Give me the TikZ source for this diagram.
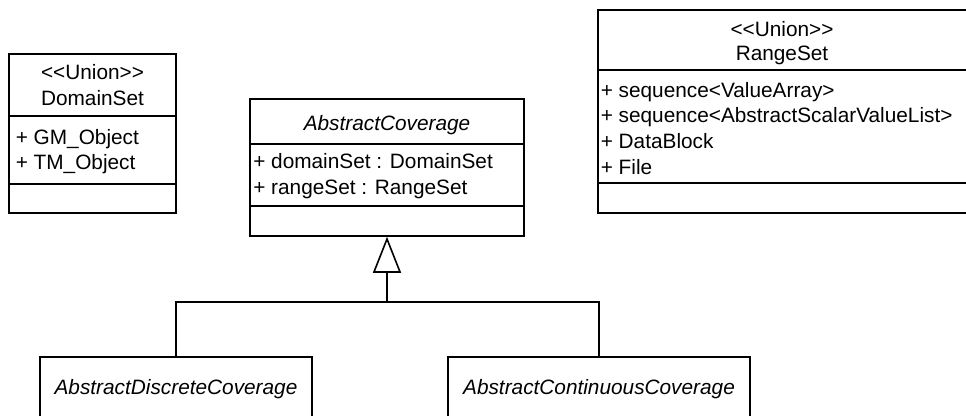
\documentclass[tikz,border=0pt]{standalone}
\usepackage{fontspec}
\setmainfont{Liberation Sans}
\usetikzlibrary{arrows.meta}
\newcommand\LTx{\mbox{<}}
\newcommand\GTx{\mbox{>}}
\begin{document}
\begin{tikzpicture}[x=1pt,y=-1pt,line width=1.6pt,
  classbox/.style={draw,rectangle,inner sep=0pt,line width=1.6pt},
  txt/.style={inner sep=0pt,font=\fontsize{20.8}{24}\selectfont},
  itxt/.style={inner sep=0pt,font=\fontsize{20.8}{24}\selectfont\itshape},
  gen/.style={-{Triangle[open,width=28pt,length=36pt]}}]
\useasboundingbox (0,0) rectangle (966,415);
\fill[white] (0,0) rectangle (966,415);
\clip (0,0) rectangle (966,415);

% DomainSet
\node[classbox,minimum width=167pt,minimum height=159pt] (ds) at (92.5,133.5) {};
\draw (ds.west |- 0,116) -- (ds.east |- 0,116);
\draw (ds.west |- 0,184) -- (ds.east |- 0,184);
\node[txt,anchor=base] (dsst) at (92.5,79) {\LTx\LTx Union\GTx\GTx};
\node[txt,anchor=base] (dsname) at (92.5,105) {DomainSet};
\node[txt,anchor=base west] (dsa1) at (15,144) {+ GM\_Object};
\node[txt,anchor=base west] (dsa2) at (15,169) {+ TM\_Object};

% RangeSet
\node[classbox,minimum width=369pt,minimum height=203pt] (rs) at (782.5,111.5) {};
\draw (rs.west |- 0,70) -- (rs.east |- 0,70);
\draw (rs.west |- 0,183) -- (rs.east |- 0,183);
\node[txt,anchor=base] (rsst) at (782,36) {\LTx\LTx Union\GTx\GTx};
\node[txt,anchor=base] (rsname) at (782,60) {RangeSet};
\node[txt,anchor=base west] (rsa1) at (600,97) {+ sequence<ValueArray>};
\node[txt,anchor=base west] (rsa2) at (600,122) {+ sequence<AbstractScalarValueList>};
\node[txt,anchor=base west] (rsa3) at (600,148) {+ DataBlock};
\node[txt,anchor=base west] (rsa4) at (600,174) {+ File};

% AbstractCoverage
\node[classbox,minimum width=274pt,minimum height=137pt] (ac) at (387,167.5) {};
\draw (ac.west |- 0,144) -- (ac.east |- 0,144);
\draw (ac.west |- 0,206) -- (ac.east |- 0,206);
\node[itxt,anchor=base] (acname) at (387,130) {AbstractCoverage};
\node[txt,anchor=base west] (aca1) at (252.5,168) {+ domainSet : DomainSet};
\node[txt,anchor=base west] (aca2) at (252.5,194) {+ rangeSet : RangeSet};

% Children
\node[classbox,minimum width=272pt,minimum height=83pt] (disc) at (176,398.5) {};
\node[itxt,anchor=base] (discname) at (176,394) {AbstractDiscreteCoverage};
\node[classbox,minimum width=302pt,minimum height=83pt] (cont) at (599,398.5) {};
\node[itxt,anchor=base] (contname) at (599,394) {AbstractContinuousCoverage};

% Generalization
\coordinate (j) at (387,302);
\draw (disc.north) |- (j) -| (cont.north);
\draw[gen] (j) -- (ac.south);
\end{tikzpicture}
\end{document}
